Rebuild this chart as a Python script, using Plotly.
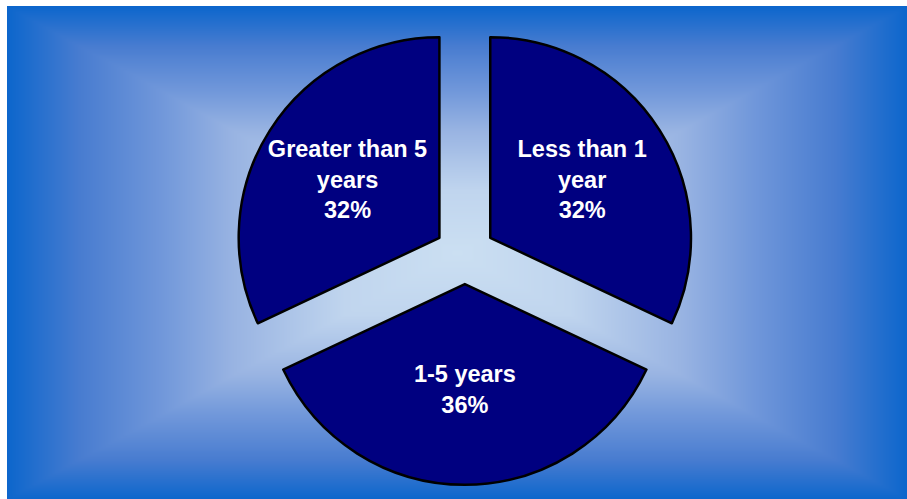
import numpy as np
import plotly.graph_objects as go

# Holding period breakdown
labels = ["Less than 1<br>year", "1-5 years", "Greater than 5<br>years"]
values = [32, 36, 32]
slice_color = "#000080"

# Rectangular "from centre" gradient backdrop
nx, ny = 301, 167
gx = np.linspace(-1, 1, nx)
gy = np.linspace(-1, 1, ny)
X, Y = np.meshgrid(gx, gy)
Z = np.maximum(np.abs(X), np.abs(Y))

bg_scale = [
    [0.00, "rgb(203,223,242)"],
    [0.25, "rgb(192,213,238)"],
    [0.50, "rgb(152,179,226)"],
    [0.66, "rgb(112,151,218)"],
    [0.84, "rgb(72,124,208)"],
    [1.00, "rgb(12,102,204)"],
]

fig = go.Figure()
fig.add_trace(go.Heatmap(
    x=np.linspace(0, 1, nx), y=np.linspace(0, 1, ny), z=Z,
    colorscale=bg_scale, zmin=0, zmax=1, zsmooth="best",
    showscale=False, hoverinfo="skip",
))

fig.add_trace(go.Pie(
    labels=labels, values=values,
    sort=False, direction="clockwise", rotation=0,
    pull=[0.15, 0.15, 0.15],
    marker=dict(colors=[slice_color] * 3, line=dict(color="black", width=2.5)),
    texttemplate="%{label}<br>%{percent:.0%}",
    textposition="inside", insidetextorientation="horizontal",
    textfont=dict(color="white", size=23.5, family="Liberation Sans, Arial, sans-serif", weight="bold"),
    domain=dict(x=[0.258, 0.767], y=[0.028, 0.954]),
    showlegend=False, hoverinfo="label+percent",
))

fig.update_layout(
    width=907, height=499,
    margin=dict(l=0, r=0, t=0, b=0),
    paper_bgcolor="white", plot_bgcolor="white",
    xaxis=dict(domain=[7 / 907, 1], range=[0, 1], visible=False, fixedrange=True),
    yaxis=dict(domain=[0, 493 / 499], range=[0, 1], visible=False, fixedrange=True),
    showlegend=False,
)

fig.write_html("out.html")
